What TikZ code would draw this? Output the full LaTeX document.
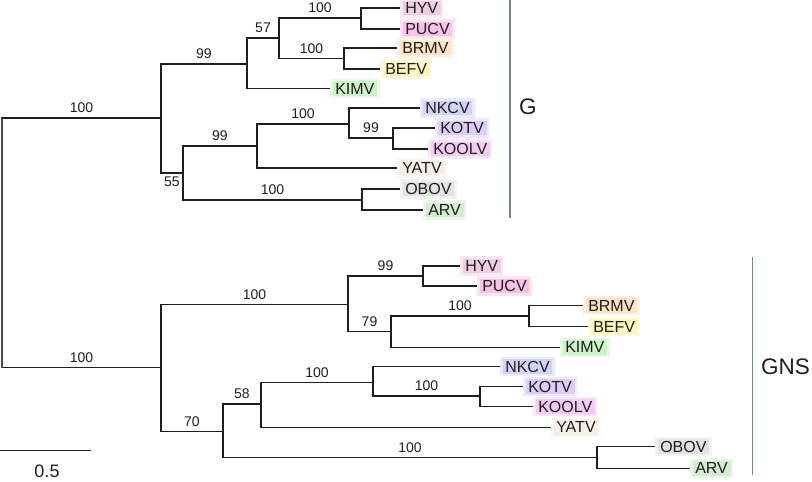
\documentclass[tikz,border=0pt]{standalone}
\usepackage{fontspec}
\setmainfont{Liberation Sans}
\usetikzlibrary{calc}
\definecolor{ink}{HTML}{1E1E1E}
\definecolor{cbar}{HTML}{6F8A86}
\definecolor{hHYV}{HTML}{ECCFE1}
\definecolor{hPUCV}{HTML}{F8C2E6}
\definecolor{hBRMV}{HTML}{FBE3C6}
\definecolor{hBEFV}{HTML}{FAF6BC}
\definecolor{hKIMV}{HTML}{CDF4C8}
\definecolor{hNKCV}{HTML}{D3D3F7}
\definecolor{hKOTV}{HTML}{DDCBF8}
\definecolor{hKOOLV}{HTML}{F3CBF5}
\definecolor{hYATV}{HTML}{F6EFE7}
\definecolor{hOBOV}{HTML}{E3E3E3}
\definecolor{hARV}{HTML}{D5ECD2}
\tikzset{
  every picture/.style={x=1pt, y=-1pt},
  branch/.style={draw=ink, line width=1.1pt},
  rootline/.style={draw=ink!80, line width=1.8pt},
  leaf/.style={anchor=west, fill=#1, draw=#1!45!white, line width=2.5pt, inner xsep=4pt, inner ysep=1pt, minimum height=17pt, font=\fontsize{16}{16}\selectfont, text=ink},
  leaf/.default=white,
  bs/.style={pos=0.75, above=3.5pt, inner sep=1pt, font=\fontsize{14}{14}\selectfont, text=ink},
  clade/.style={anchor=west, inner sep=0pt, font=\fontsize{22.5}{22.5}\selectfont, text=ink},
  cladebar/.style={draw=cbar, line width=1.1pt},
}
\begin{document}
\begin{tikzpicture}
  \useasboundingbox (0,0) rectangle (812,482);
  \coordinate (r) at (2,243);
  % G tree
  \coordinate (gA) at (161,118);
  \coordinate (gB) at (247,64);
  \coordinate (gC) at (279,38);
  \coordinate (gD) at (361,18);
  \coordinate (gE) at (344,58.7);
  \coordinate (gF) at (183,173);
  \coordinate (gG) at (257,146);
  \coordinate (gH) at (349,124);
  \coordinate (gI) at (393,138);
  \coordinate (gJ) at (362,200);
  \node[leaf=hHYV] (gHYV) at (400,8) {HYV};
  \node[leaf=hPUCV] (gPUCV) at (400,29) {PUCV};
  \node[leaf=hBRMV] (gBRMV) at (397,48) {BRMV};
  \node[leaf=hBEFV] (gBEFV) at (380,69) {BEFV};
  \node[leaf=hKIMV] (gKIMV) at (330,88.5) {KIMV};
  \node[leaf=hNKCV] (gNKCV) at (420,108) {NKCV};
  \node[leaf=hKOTV] (gKOTV) at (435,128) {KOTV};
  \node[leaf=hKOOLV] (gKOOLV) at (428,149) {KOOLV};
  \node[leaf=hYATV] (gYATV) at (397,168) {YATV};
  \node[leaf=hOBOV] (gOBOV) at (400,189) {OBOV};
  \node[leaf=hARV] (gARV) at (423,210) {ARV};
  \foreach \a/\b/\s in {r/gA/100, gA/gB/99, gB/gC/57, gC/gD/100, gC/gE/100, gF/gG/99, gG/gH/100, gH/gI/99, gF/gJ/100}
    \draw[branch] (\a) |- node[bs]{\s} (\b);
  \draw[branch] (gA) |- node[bs, below=6pt]{55} (gF);
  \foreach \a/\b in {gD/gHYV, gD/gPUCV, gE/gBRMV, gE/gBEFV, gB/gKIMV, gH/gNKCV, gI/gKOTV, gI/gKOOLV, gG/gYATV, gJ/gOBOV, gJ/gARV}
    \draw[branch] (\a) |- (\b.west);
  % GNS tree
  \coordinate (nK) at (161,367.6);
  \coordinate (nL) at (348,304.7);
  \coordinate (nM) at (423,276);
  \coordinate (nN) at (391,331.7);
  \coordinate (nO) at (529,316);
  \coordinate (nP) at (223,431.7);
  \coordinate (nQ) at (261,404);
  \coordinate (nR) at (373,382.3);
  \coordinate (nS) at (480,396);
  \coordinate (nT) at (597,457.3);
  \node[leaf=hHYV] (nHYV) at (460,266) {HYV};
  \node[leaf=hPUCV] (nPUCV) at (477,286) {PUCV};
  \node[leaf=hBRMV] (nBRMV) at (583,305.7) {BRMV};
  \node[leaf=hBEFV] (nBEFV) at (588,326.7) {BEFV};
  \node[leaf=hKIMV] (nKIMV) at (560,347.3) {KIMV};
  \node[leaf=hNKCV] (nNKCV) at (500,366.7) {NKCV};
  \node[leaf=hKOTV] (nKOTV) at (523,386.7) {KOTV};
  \node[leaf=hKOOLV] (nKOOLV) at (533,406.7) {KOOLV};
  \node[leaf=hYATV] (nYATV) at (551,427.3) {YATV};
  \node[leaf=hOBOV] (nOBOV) at (655,446.7) {OBOV};
  \node[leaf=hARV] (nARV) at (690,468.3) {ARV};
  \foreach \a/\b/\s in {r/nK/100, nK/nL/100, nL/nM/99, nL/nN/79, nN/nO/100, nK/nP/70, nP/nQ/58, nQ/nR/100, nR/nS/100, nP/nT/100}
    \draw[branch] (\a) |- node[bs]{\s} (\b);
  \foreach \a/\b in {nM/nHYV, nM/nPUCV, nO/nBRMV, nO/nBEFV, nN/nKIMV, nR/nNKCV, nS/nKOTV, nS/nKOOLV, nQ/nYATV, nT/nOBOV, nT/nARV}
    \draw[branch] (\a) |- (\b.west);
  \draw[rootline] (r |- gA) -- (r |- nK);
  % clade bars
  \coordinate (gTop) at (510,0);
  \coordinate (gBot) at (510,218);
  \coordinate (nTop) at (752.7,257);
  \coordinate (nBot) at (752.7,475);
  \draw[cladebar] (gTop) -- (gBot);
  \draw[cladebar] (nTop) -- (nBot);
  \node[clade] (gLab) at (519,107) {G};
  \node[clade] (nLab) at (761,367) {GNS};
  % scale
  \coordinate (sL) at (0,450.7);
  \coordinate (sR) at (90.7,450.7);
  \draw[branch] (sL) -- (sR);
  \node[inner sep=0pt, font=\fontsize{18}{18}\selectfont, text=ink] (sLab) at (47,471) {0.5};
\end{tikzpicture}
\end{document}
